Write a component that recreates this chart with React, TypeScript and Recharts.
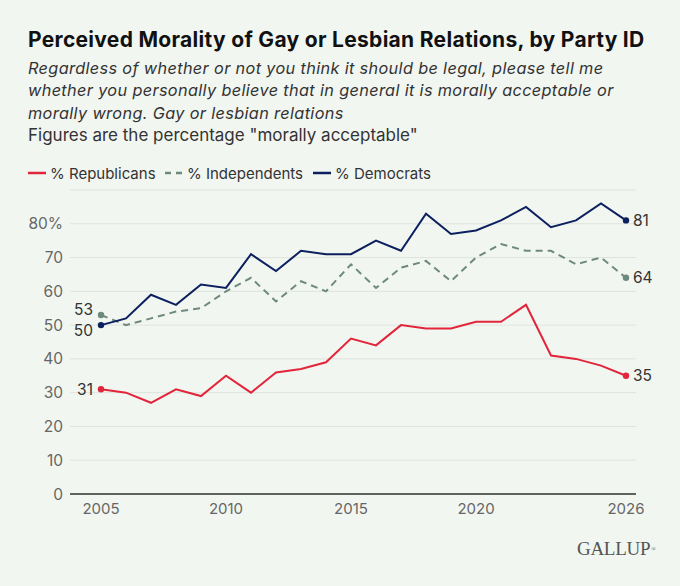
import { LineChart, Line, XAxis, YAxis, CartesianGrid } from 'recharts';

const years = [2005, 2006, 2007, 2008, 2009, 2010, 2011, 2012, 2013, 2014, 2015, 2016, 2017, 2018, 2019, 2020, 2021, 2022, 2023, 2024, 2025, 2026];
const republicans = [31, 30, 27, 31, 29, 35, 30, 36, 37, 39, 46, 44, 50, 49, 49, 51, 51, 56, 41, 40, 38, 35];
const independents = [53, 50, 52, 54, 55, 60, 64, 57, 63, 60, 68, 61, 67, 69, 63, 70, 74, 72, 72, 68, 70, 64];
const democrats = [50, 52, 59, 56, 62, 61, 71, 66, 72, 71, 71, 75, 72, 83, 77, 78, 81, 85, 79, 81, 86, 81];

const xTicks = [2005, 2010, 2015, 2020, 2026];
const yTicks = [0, 10, 20, 30, 40, 50, 60, 70, 80];

const RED = '#e2253b';
const GRAY = '#6d8a7d';
const NAVY = '#0c1f5e';
const BG = '#f2f6f1';

const data = years.map((year, i) => ({
  year,
  rep: republicans[i],
  ind: independents[i],
  dem: democrats[i],
}));

// dot + value label only at the two ends of each line
function endDot(key: string, color: string, firstDy: number) {
  const last = data.length - 1;
  return (props: any) => {
    const { cx, cy, index, payload } = props;
    if (index !== 0 && index !== last) return <g key={`${key}-${index}`} />;
    const v = payload[key];
    const first = index === 0;
    return (
      <g key={`${key}-${index}`}>
        <circle cx={cx} cy={cy} r={3.2} fill={color} />
        <text
          x={first ? cx - 8 : cx + 7}
          y={first ? cy + firstDy : cy}
          textAnchor={first ? 'end' : 'start'}
          dominantBaseline="central"
          fontSize={15.5}
          fill="#333"
          fontFamily="Inter"
        >
          {v}
        </text>
      </g>
    );
  };
}

const legendItem = (color: string, dashed: boolean, label: string, left: number) => (
  <div style={{ position: 'absolute', left, top: 164, display: 'flex', alignItems: 'center', height: 18 }}>
    <svg width={18} height={4} style={{ marginRight: 4 }}>
      <line x1={0} y1={2} x2={18} y2={2} stroke={color} strokeWidth={2.5} strokeDasharray={dashed ? '6 5' : undefined} />
    </svg>
    <span style={{ fontSize: 15, color: '#333' }}>{label}</span>
  </div>
);

export default function App() {
  return (
    <div
      style={{
        position: 'absolute',
        left: 0,
        top: 0,
        width: 680,
        height: 586,
        background: BG,
        fontFamily: 'Inter, sans-serif',
        overflow: 'hidden',
      }}
    >
      <div style={{ position: 'absolute', left: 28, top: 28, fontSize: 21, fontWeight: 700, color: '#111', lineHeight: '24px', whiteSpace: 'nowrap', letterSpacing: 0.3 }}>
        Perceived Morality of Gay or Lesbian Relations, by Party ID
      </div>
      <div style={{ position: 'absolute', left: 28, top: 57, fontSize: 17, color: '#333', lineHeight: '22.3px', width: 650, whiteSpace: 'nowrap' }}>
        <div style={{ fontStyle: 'italic', fontSize: 16.3, letterSpacing: 0.35 }}>
          Regardless of whether or not you think it should be legal, please tell me
          <br />
          whether you personally believe that in general it is morally acceptable or
          <br />
          morally wrong. Gay or lesbian relations
        </div>
        <div>Figures are the percentage "morally acceptable"</div>
      </div>

      {legendItem(RED, false, '% Republicans', 28)}
      {legendItem(GRAY, true, '% Independents', 165)}
      {legendItem(NAVY, false, '% Democrats', 313)}

      <div style={{ position: 'absolute', left: 0, top: 0 }}>
        <LineChart width={680} height={586} data={data} margin={{ top: 190, right: 44, bottom: 62, left: 10 }}>
          <CartesianGrid vertical={false} stroke="#dfe3de" strokeWidth={1} />
          <XAxis
            dataKey="year"
            type="number"
            domain={[2003.76, 2026.4]}
            ticks={xTicks}
            height={30}
            tickLine={false}
            tickMargin={3}
            axisLine={{ stroke: '#333', strokeWidth: 1.5 }}
            tick={{ fontSize: 15, fill: '#666', fontFamily: 'Inter' }}
          />
          <YAxis
            type="number"
            domain={[0, 90]}
            ticks={yTicks}
            width={60}
            axisLine={false}
            tickLine={false}
            tickMargin={1}
            tick={{ fontSize: 15.5, fill: '#666', fontFamily: 'Inter' }}
            tickFormatter={(v: number) => (v === 80 ? '80%' : String(v))}
          />
          <Line dataKey="rep" stroke={RED} strokeWidth={2} dot={endDot('rep', RED, 0)} activeDot={false} isAnimationActive={false} />
          <Line dataKey="ind" stroke={GRAY} strokeWidth={2} strokeDasharray="7 5" dot={endDot('ind', GRAY, -5)} activeDot={false} isAnimationActive={false} />
          <Line dataKey="dem" stroke={NAVY} strokeWidth={2} dot={endDot('dem', NAVY, 5)} activeDot={false} isAnimationActive={false} />
        </LineChart>
      </div>

      <div style={{ position: 'absolute', left: 577, top: 537, fontFamily: '"Liberation Serif", serif', fontSize: 19, color: '#555', lineHeight: '24px', letterSpacing: -0.3 }}>
        GALLUP<span style={{ fontSize: 6, verticalAlign: 'top', marginLeft: 1 }}>®</span>
      </div>
    </div>
  );
}
